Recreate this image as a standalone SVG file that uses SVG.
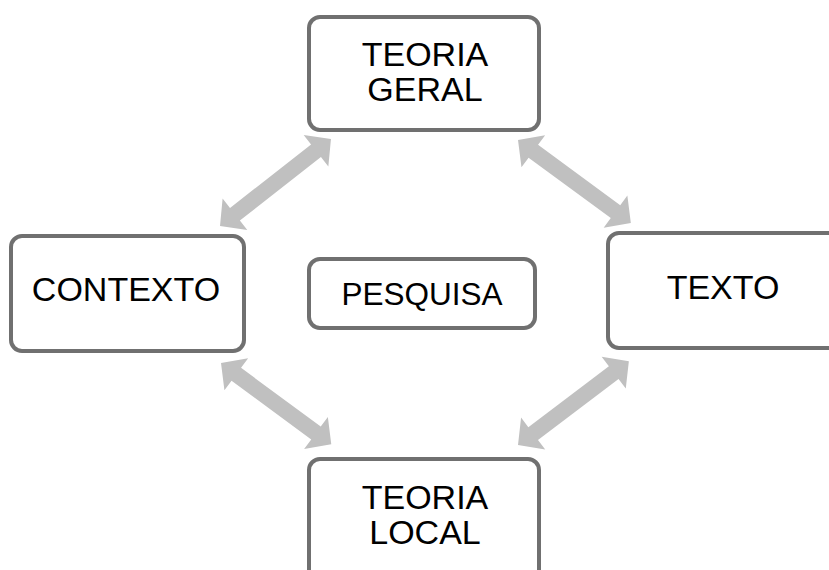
<svg xmlns="http://www.w3.org/2000/svg" width="829" height="570" viewBox="0 0 829 570">
  <style>
    .box { fill: #ffffff; stroke: #707070; stroke-width: 4; }
    .lbl { font-family: "Liberation Sans", Arial, sans-serif; font-size: 34px; fill: #000000; text-anchor: middle; }
    .arrow { fill: #c0c0c0; stroke: none; }
  </style>
  <rect width="829" height="570" fill="#ffffff"/>

  <!-- double-headed connectors -->
  <g id="connectors">
    <path class="arrow" transform="translate(220,226) rotate(-38.1)" d="M0,0 L19,-20 L19,-8 L122,-8 L122,-20 L141,0 L122,20 L122,8 L19,8 L19,20 Z"/>
    <path class="arrow" transform="translate(518,140) rotate(36.3)" d="M0,0 L19,-20 L19,-8 L121,-8 L121,-20 L140,0 L121,20 L121,8 L19,8 L19,20 Z"/>
    <path class="arrow" transform="translate(221,363) rotate(36.4)" d="M0,0 L19,-20 L19,-8 L118,-8 L118,-20 L137,0 L118,20 L118,8 L19,8 L19,20 Z"/>
    <path class="arrow" transform="translate(518,445) rotate(-37.1)" d="M0,0 L19,-20 L19,-8 L120,-8 L120,-20 L139,0 L120,20 L120,8 L19,8 L19,20 Z"/>
  </g>

  <g id="teoria-geral">
    <rect class="box" x="309" y="17" width="230" height="113" rx="11"/>
    <text class="lbl" x="425" y="65.5">TEORIA</text>
    <text class="lbl" x="425" y="100.5">GERAL</text>
  </g>

  <g id="contexto">
    <rect class="box" x="11" y="236" width="233" height="115" rx="11"/>
    <text class="lbl" x="126" y="301">CONTEXTO</text>
  </g>

  <g id="pesquisa">
    <rect class="box" x="309" y="259" width="226" height="69" rx="11"/>
    <text class="lbl" x="422" y="305" style="font-size:31.5px">PESQUISA</text>
  </g>

  <g id="texto">
    <rect class="box" x="608" y="233" width="240" height="115" rx="11"/>
    <text class="lbl" x="723" y="299">TEXTO</text>
  </g>

  <g id="teoria-local">
    <rect class="box" x="309" y="459" width="230" height="130" rx="11"/>
    <text class="lbl" x="425" y="508.5">TEORIA</text>
    <text class="lbl" x="425" y="543.5">LOCAL</text>
  </g>
</svg>
